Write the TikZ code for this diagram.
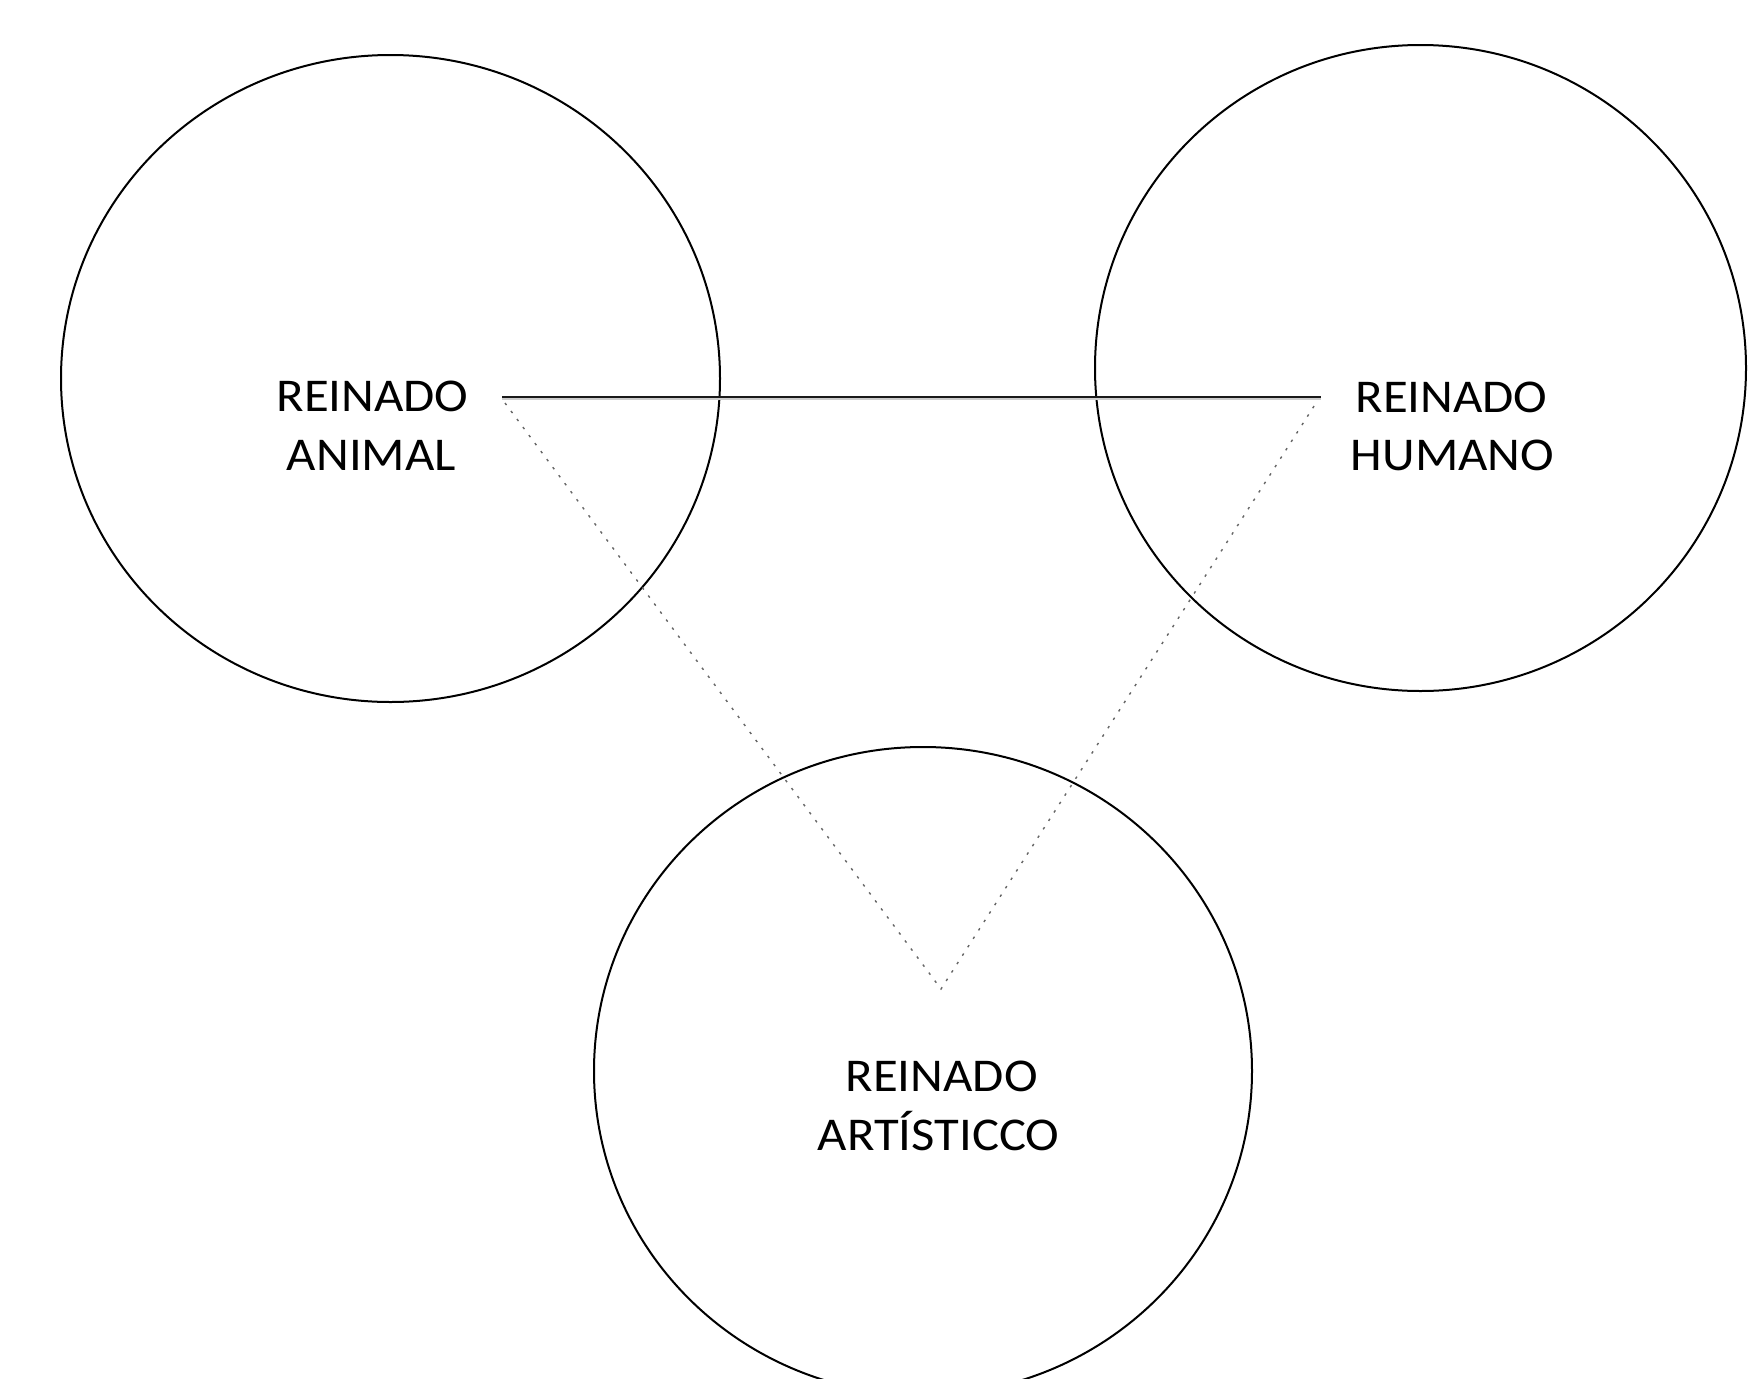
\documentclass[tikz,border=0pt]{standalone}
\usepackage{fontspec}
\setmainfont{Carlito}[FakeStretch=1.08]
\usetikzlibrary{shapes.geometric}
\tikzset{
  ring/.style={draw=black, ellipse, line width=2pt, inner sep=0pt},
  lbl/.style={font=\fontsize{47}{58}\selectfont, inner sep=0pt, anchor=base, text=black},
  tie/.style={draw=black!90, line width=2.2pt},
  dotline/.style={draw=black!60, line width=1.4pt, dash pattern=on 2.5pt off 7.5pt},
}
\begin{document}
\begin{tikzpicture}[x=1pt,y=-1pt]
\useasboundingbox (0,0) rectangle (1757,1379);
\fill[white] (0,0) rectangle (1757,1379);
% circles
\node[ring, minimum width=659pt, minimum height=647pt] (cA) at (390.5,378.5) {};
\node[ring, minimum width=651pt, minimum height=646pt] (cH) at (1420.5,368) {};
\node[ring, minimum width=658pt, minimum height=648pt] (cR) at (923,1071) {};
% labels
\node[lbl] (a1) at (372.5,411.7) {REINADO};
\node[lbl] (a2) at (371.5,470) {ANIMAL};
\node[lbl] (h1) at (1451.5,412) {REINADO};
\node[lbl] (h2) at (1452.5,470) {HUMANO};
\node[lbl] (r1) at (941.7,1091.7) {REINADO};
\node[lbl] (r2) at (938.5,1150) {ARTÍSTICCO};
% connectors
\coordinate (pA) at (502,397);
\coordinate (pH) at (1321,397);
\coordinate (dA) at (505,403);
\coordinate (dH) at (1316,403);
\coordinate (apex) at (941,989);
\draw[black!20, line width=2pt] ([yshift=-2.4pt]pA) -- ([yshift=-2.4pt]pH);
\draw[tie] (pA) -- (pH);
\draw[dotline] (dA) -- (apex) -- (dH);
\end{tikzpicture}
\end{document}
